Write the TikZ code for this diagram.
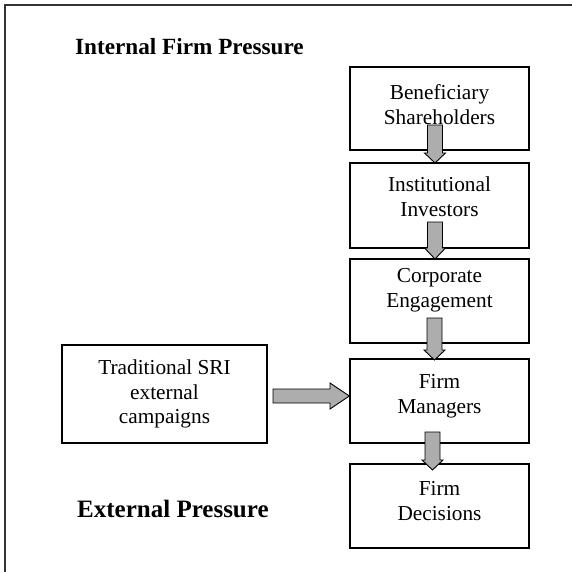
\documentclass[tikz,border=0pt]{standalone}
\usepackage{fontspec}
\setmainfont{Liberation Serif}
\begin{document}
\begin{tikzpicture}[x=1pt,y=-1pt,
  box/.style={draw=black,line width=1.4pt,minimum width=179pt,minimum height=83pt,inner sep=0pt},
  boxtext/.style={align=center,inner sep=0pt,font=\fontsize{21.3}{24.5}\selectfont},
  heading/.style={anchor=base west,inner sep=0pt,font=\fontsize{23.2}{27}\selectfont\bfseries},
  blockarrow/.style={draw=black,line width=0.9pt,fill=black!32,line join=miter}]
\useasboundingbox (0,0) rectangle (571,572);
\draw[line width=1.3pt,draw=black!80] (5,580) -- (5,5) -- (580,5);

\node[heading] (hin) at (75,55) {Internal Firm Pressure};
\node[heading,font=\fontsize{25}{29}\selectfont\bfseries] (hex) at (77,517) {External Pressure};

\node[box] (ben) at (439.5,108.5) {};
\node[box,minimum height=85pt] (inst) at (439.5,205.5) {};
\node[box,minimum height=84pt] (corp) at (439.5,301) {};
\node[box,minimum height=84pt] (fm) at (439.5,401) {};
\node[box,minimum height=84pt] (fd) at (439.5,506) {};
\node[box,minimum width=205pt,minimum height=98pt] (sri) at (164.5,394) {};

\node[boxtext] (benT) at (ben.center) [yshift=4pt] {Beneficiary\\Shareholders};
\node[boxtext] (instT) at (inst.center) [yshift=9pt] {Institutional\\Investors};
\node[boxtext] (corpT) at (corp.center) [yshift=11pt] {Corporate\\Engagement};
\node[boxtext] (fmT) at (fm.center) [yshift=5pt] {Firm\\Managers};
\node[boxtext] (fdT) at (fd.center) [yshift=5pt] {Firm\\Decisions};
\node[boxtext] (sriT) at (sri.center) {Traditional SRI\\external\\campaigns};

% vertical block arrows: centre x, shaft top, head start, tip
\newcommand{\downarrowblock}[4]{%
  \draw[blockarrow] (#1-7.5,#2) -- (#1+7.5,#2) -- (#1+7.5,#3) -- (#1+10.5,#3)
    -- (#1,#4) -- (#1-10.5,#3) -- (#1-7.5,#3) -- cycle;}
\downarrowblock{435}{125}{153}{163}
\downarrowblock{435}{222}{248}{259}
\downarrowblock{434.5}{318}{350}{360}
\downarrowblock{432.5}{432}{460}{470}

% horizontal block arrow into Firm Managers
\draw[blockarrow] (273,389) -- (330,389) -- (330,383) -- (fm.west |- 0,396)
  -- (330,409) -- (330,403) -- (273,403) -- cycle;
\end{tikzpicture}
\end{document}
